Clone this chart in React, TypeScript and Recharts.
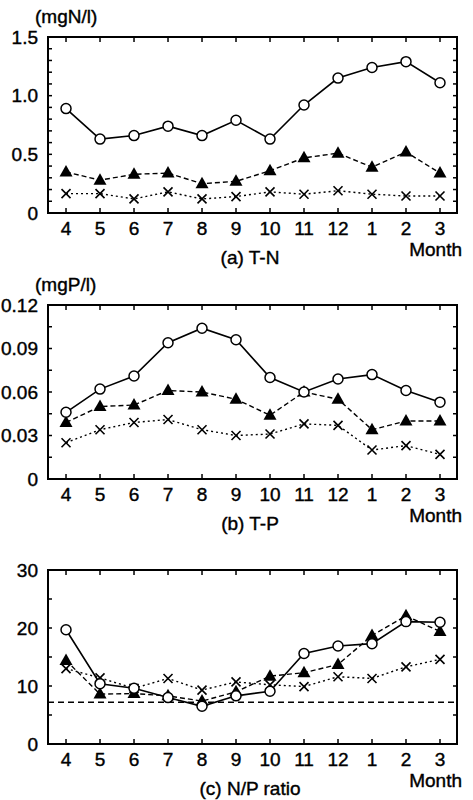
import { LineChart, Line, XAxis, YAxis, ReferenceLine, ReferenceArea } from 'recharts'

const months = ['4', '5', '6', '7', '8', '9', '10', '11', '12', '1', '2', '3']

// (a) T-N, mgN/l
const tnCircle = [0.89, 0.63, 0.66, 0.74, 0.66, 0.79, 0.63, 0.92, 1.15, 1.24, 1.29, 1.11]
const tnTriangle = [0.35, 0.28, 0.33, 0.34, 0.25, 0.27, 0.36, 0.47, 0.51, 0.39, 0.52, 0.34]
const tnCross = [0.165, 0.165, 0.12, 0.18, 0.12, 0.14, 0.18, 0.16, 0.19, 0.16, 0.145, 0.145]

// (b) T-P, mgP/l
const tpCircle = [0.046, 0.062, 0.071, 0.094, 0.104, 0.096, 0.07, 0.06, 0.069, 0.072, 0.061, 0.053]
const tpTriangle = [0.039, 0.05, 0.051, 0.061, 0.06, 0.055, 0.044, 0.06, 0.055, 0.034, 0.04, 0.04]
const tpCross = [0.025, 0.034, 0.039, 0.041, 0.034, 0.03, 0.031, 0.038, 0.037, 0.02, 0.023, 0.017]

// (c) N/P ratio
const npCircle = [19.7, 10.4, 9.6, 8.0, 6.5, 8.3, 9.1, 15.6, 16.9, 17.3, 21.1, 21.0]
const npTriangle = [14.4, 8.6, 8.7, 8.3, 7.4, 9.0, 11.7, 12.3, 13.7, 18.7, 22.1, 19.4]
const npCross = [13.0, 11.4, 9.6, 11.3, 9.3, 10.7, 10.2, 9.9, 11.6, 11.3, 13.3, 14.6]
const redfield = 7.2

const tnTicks = [0, 0.1, 0.2, 0.3, 0.4, 0.5, 0.6, 0.7, 0.8, 0.9, 1.0, 1.1, 1.2, 1.3, 1.4, 1.5]
const tnLabels = ['0', '0.5', '1.0', '1.5']
const tpTicks = [0, 0.015, 0.03, 0.045, 0.06, 0.075, 0.09, 0.105, 0.12]
const tpLabels = ['0', '0.03', '0.06', '0.09', '0.12']
const npTicks = [0, 5, 10, 15, 20, 25, 30]
const npLabels = ['0', '10', '20', '30']

const monthIdx = months.map((_, i) => i)
const xDomain = [-0.53, 11.5]

const font = '"Liberation Sans", Arial, sans-serif'
const W = 473
const LEFT = 48
const RIGHT = 16
const PAD = 10

const OpenCircle = (p: any) => (
  <circle key={p.index} cx={p.cx} cy={p.cy} r={5} fill="#fff" stroke="#000" strokeWidth={1.5} />
)
const Triangle = (p: any) => (
  <path
    key={p.index}
    d={`M${p.cx},${p.cy - 7} L${p.cx + 6.5},${p.cy + 4.5} L${p.cx - 6.5},${p.cy + 4.5} Z`}
    fill="#000"
  />
)
const Cross = (p: any) => (
  <path
    key={p.index}
    d={`M${p.cx - 4.5},${p.cy - 4.5} L${p.cx + 4.5},${p.cy + 4.5} M${p.cx + 4.5},${p.cy - 4.5} L${p.cx - 4.5},${p.cy + 4.5}`}
    stroke="#000"
    strokeWidth={1.6}
  />
)

const textProps = { fill: '#000', stroke: '#000', strokeWidth: 0.4, fontSize: 19, fontFamily: font }

type PanelProps = {
  top: number
  bottom: number
  ticks: number[]
  labels: string[]
  circle: number[]
  triangle: number[]
  cross: number[]
  unit?: string
  caption: string
  refY?: number
}

function Panel({ top, bottom, ticks, labels, circle, triangle, cross, unit, caption, refY }: PanelProps) {
  const data = months.map((m, i) => ({ x: i, month: m, circle: circle[i], triangle: triangle[i], cross: cross[i] }))
  const yMax = ticks[ticks.length - 1]
  const plotTop = PAD
  const plotBottom = PAD + bottom - top
  const plotRight = W - RIGHT
  const fmt = (v: number) => labels.find((l) => Math.abs(parseFloat(l) - v) < 1e-9) ?? ''

  // bottom labels + inward ticks on bottom and top edges
  const XTick = (p: any) => {
    const cx = p.payload.coordinate
    return (
      <g>
        <line x1={cx} x2={cx} y1={plotBottom} y2={plotBottom - 5} stroke="#000" strokeWidth={1.5} />
        <line x1={cx} x2={cx} y1={plotTop} y2={plotTop + 5} stroke="#000" strokeWidth={1.5} />
        <text x={cx} y={p.y} dy="0.71em" textAnchor="middle" {...textProps}>{months[p.payload.value]}</text>
      </g>
    )
  }
  // left labels + inward ticks on left and right edges
  const YTick = (p: any) => {
    const cy = p.payload.coordinate
    return (
      <g>
        <line x1={LEFT} x2={LEFT + 4} y1={cy} y2={cy} stroke="#000" strokeWidth={1.5} />
        <line x1={plotRight} x2={plotRight - 4} y1={cy} y2={cy} stroke="#000" strokeWidth={1.5} />
        <text x={p.x} y={cy} dy="0.355em" textAnchor="end" {...textProps}>{fmt(p.payload.value)}</text>
      </g>
    )
  }

  const text = {
    position: 'absolute' as const, fontFamily: font, fontSize: 19, lineHeight: '19px', color: '#000',
    WebkitTextStroke: '0.4px #000',
  }
  return (
    <>
      {unit && <div style={{ ...text, left: 35, top: top - 30 }}>{unit}</div>}
      <div style={{ position: 'absolute', left: 0, top: top - PAD }}>
        <LineChart width={W} height={bottom - top + PAD + 40} data={data}
          margin={{ top: PAD, right: RIGHT, bottom: 0, left: 0 }}>
          <XAxis dataKey="x" type="number" domain={xDomain} ticks={monthIdx} interval={0} height={40}
            axisLine={false} tickLine={false} tickSize={0} tickMargin={9} tick={XTick} />
          <YAxis yAxisId="l" type="number" domain={[0, yMax]} ticks={ticks} interval={0} width={LEFT}
            axisLine={false} tickLine={false} tickSize={0} tickMargin={10} tick={YTick} />
          <ReferenceArea yAxisId="l" x1={xDomain[0]} x2={xDomain[1]} y1={0} y2={yMax}
            fill="none" stroke="#000" strokeWidth={2} fillOpacity={0} strokeOpacity={1} />
          {refY !== undefined && (
            <ReferenceLine yAxisId="l" y={refY} stroke="#000" strokeWidth={1.5} strokeDasharray="6 4" />
          )}
          <Line yAxisId="l" dataKey="cross" stroke="#000" strokeWidth={1.4} strokeDasharray="2 3"
            dot={Cross} activeDot={false} isAnimationActive={false} />
          <Line yAxisId="l" dataKey="triangle" stroke="#000" strokeWidth={1.4} strokeDasharray="5 3"
            dot={Triangle} activeDot={false} isAnimationActive={false} />
          <Line yAxisId="l" dataKey="circle" stroke="#000" strokeWidth={1.6}
            dot={OpenCircle} activeDot={false} isAnimationActive={false} />
        </LineChart>
      </div>
      <div style={{ ...text, left: 362, width: 100, textAlign: 'right', top: bottom + 27 }}>Month</div>
      <div style={{ ...text, left: 150, width: 200, textAlign: 'center', top: bottom + 35 }}>{caption}</div>
    </>
  )
}

export default function App() {
  return (
    <div style={{ position: 'absolute', left: 0, top: 0, width: W, height: 800, background: '#fff' }}>
      <Panel top={37} bottom={213} ticks={tnTicks} labels={tnLabels}
        circle={tnCircle} triangle={tnTriangle} cross={tnCross} unit="(mgN/l)" caption="(a) T-N" />
      <Panel top={305} bottom={479} ticks={tpTicks} labels={tpLabels}
        circle={tpCircle} triangle={tpTriangle} cross={tpCross} unit="(mgP/l)" caption="(b) T-P" />
      <Panel top={570} bottom={744} ticks={npTicks} labels={npLabels}
        circle={npCircle} triangle={npTriangle} cross={npCross} caption="(c) N/P ratio" refY={redfield} />
    </div>
  )
}
